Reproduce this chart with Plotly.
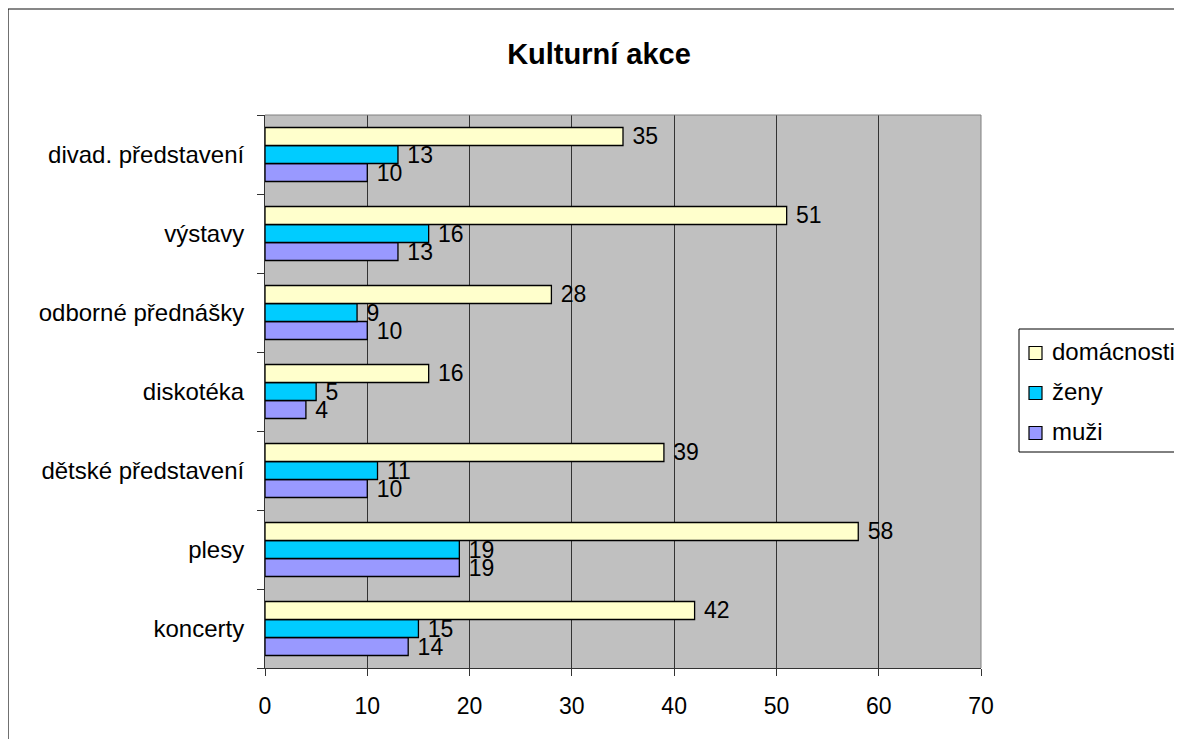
import plotly.graph_objects as go

categories = ["koncerty", "plesy", "dětské představení", "diskotéka",
              "odborné přednášky", "výstavy", "divad. představení"]
domacnosti = [42, 58, 39, 16, 28, 51, 35]
zeny = [15, 19, 11, 5, 9, 16, 13]
muzi = [14, 19, 10, 4, 10, 13, 10]
x_ticks = [0, 10, 20, 30, 40, 50, 60, 70]
legend_names = ["domácnosti", "ženy", "muži"]

FONT = "Liberation Sans, Arial, sans-serif"
COLORS = {"domácnosti": "#FFFFCC", "ženy": "#00CCFF", "muži": "#9999FF"}

series = [
    ("muži", muzi),
    ("ženy", zeny),
    ("domácnosti", domacnosti),
]

fig = go.Figure()
for name, vals in series:
    fig.add_trace(go.Bar(
        y=categories, x=vals, name=name, orientation="h",
        marker=dict(color=COLORS[name], line=dict(color="#000000", width=1.3)),
        text=vals, texttemplate=" %{text}", textposition="outside",
        textfont=dict(family=FONT, size=23, color="#000000"),
        constraintext="none", cliponaxis=False, showlegend=False,
    ))

# page body has an 8px margin: figure coords = screen coords - 8
OFF = 8
W, H = 1182 - OFF, 739 - OFF
L, R, T, B = 265 - OFF, 1182 - 981, 115 - OFF, 739 - 668
pw, ph = W - L - R, H - T - B


def px_x(sx):
    return (sx - OFF - L) / pw


def px_y(sy):
    return (H - B - (sy - OFF)) / ph


fig.update_layout(
    width=W, height=H,
    margin=dict(l=L, r=R, t=T, b=B, autoexpand=False),
    paper_bgcolor="#FFFFFF",
    plot_bgcolor="#C0C0C0",
    barmode="group", bargap=0.316, bargroupgap=0,
    font=dict(family=FONT, size=24, color="#000000"),
    title=dict(text="<b>Kulturní akce</b>", x=(599 - OFF) / W, xanchor="center",
               y=1 - (54 - OFF) / H, yanchor="middle", xref="container", yref="container",
               font=dict(family=FONT, size=29, color="#000000")),
    xaxis=dict(range=[0, 70], tickvals=x_ticks, showgrid=True,
               gridcolor="#333333", gridwidth=1, zeroline=False,
               showline=True, linecolor="#333333", linewidth=1,
               ticks="outside", ticklen=7, tickcolor="#333333",
               ticklabelstandoff=10,
               tickfont=dict(family=FONT, size=23, color="#000000")),
    yaxis=dict(type="category", categoryorder="array", categoryarray=categories,
               showgrid=False, zeroline=False,
               showline=True, linecolor="#333333", linewidth=1,
               ticks="outside", ticklen=7, tickcolor="#333333",
               tickson="boundaries", ticklabelstandoff=15,
               tickfont=dict(family=FONT, size=24, color="#000000")),
    showlegend=False,
)

# plot-area border (top and right, gray)
fig.add_shape(type="path", xref="paper", yref="paper",
              path="M 0 1 L 1 1 L 1 0", line=dict(color="#808080", width=1),
              layer="above")
# outer chart border
fig.add_shape(type="rect", xref="paper", yref="paper",
              x0=px_x(8), x1=px_x(1200), y0=px_y(760), y1=px_y(9),
              line=dict(color="#111111", width=1.2), fillcolor="rgba(0,0,0,0)",
              layer="below")

# manual legend (clipped by the right edge like the reference)
fig.add_shape(type="rect", xref="paper", yref="paper",
              x0=px_x(1019), x1=px_x(1200), y0=px_y(452), y1=px_y(329),
              line=dict(color="#000000", width=1), fillcolor="#FFFFFF",
              layer="above")
centers = [353, 393, 433]
for name, cy in zip(legend_names, centers):
    fig.add_shape(type="rect", xref="paper", yref="paper",
                  x0=px_x(1029), x1=px_x(1042), y0=px_y(cy + 6.5), y1=px_y(cy - 6.5),
                  line=dict(color="#000000", width=1.2), fillcolor=COLORS[name],
                  layer="above")
    fig.add_annotation(x=px_x(1050), y=px_y(cy - 2), xref="paper", yref="paper",
                       text=name, showarrow=False, xanchor="left", yanchor="middle",
                       font=dict(family=FONT, size=24, color="#000000"))

fig.write_html("out.html")
